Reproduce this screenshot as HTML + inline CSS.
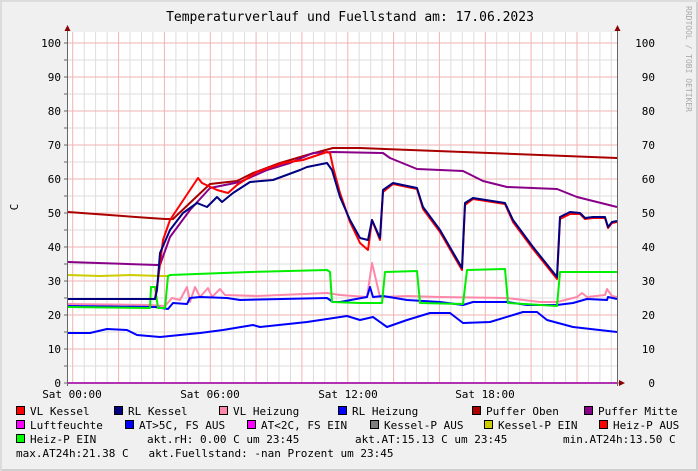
<!DOCTYPE html>
<html><head><meta charset="utf-8"><style>
html,body{margin:0;padding:0;background:#f0f0f0;}
svg{display:block;}
text{font-family:"DejaVu Sans Mono","Liberation Mono",monospace;}
</style></head><body>
<svg width="698" height="471" viewBox="0 0 698 471" xmlns="http://www.w3.org/2000/svg">
<rect x="0" y="0" width="698" height="471" fill="#f0f0f0"/>
<rect x="696" y="0" width="2" height="471" fill="#cfcfcf"/>
<rect x="0" y="469" width="698" height="2" fill="#cfcfcf"/>
<rect x="0" y="0" width="698" height="2" fill="#dcdcdc"/>
<rect x="0" y="0" width="2" height="471" fill="#dcdcdc"/>
<rect x="68" y="32" width="550" height="351" fill="#ffffff"/>
<g stroke="#dddddd" stroke-width="1">
<path d="M84.2 32V383M95.6 32V383M107.1 32V383M130.0 32V383M141.5 32V383M152.9 32V383M175.9 32V383M187.3 32V383M198.8 32V383M221.7 32V383M233.2 32V383M244.6 32V383M267.5 32V383M279.0 32V383M290.5 32V383M313.4 32V383M324.8 32V383M336.3 32V383M359.2 32V383M370.7 32V383M382.1 32V383M405.1 32V383M416.5 32V383M428.0 32V383M450.9 32V383M462.3 32V383M473.8 32V383M496.7 32V383M508.2 32V383M519.6 32V383M542.6 32V383M554.0 32V383M565.5 32V383M588.4 32V383M599.9 32V383M611.3 32V383"/>
<path d="M68 366H618M68 332H618M68 298H618M68 264H618M68 230H618M68 196H618M68 162H618M68 128H618M68 94H618M68 60H618"/>
</g>
<g stroke="#f2b3b3" stroke-width="1">
<path d="M72.7 32V383M118.6 32V383M164.4 32V383M210.3 32V383M256.1 32V383M301.9 32V383M347.8 32V383M393.6 32V383M439.4 32V383M485.3 32V383M531.1 32V383M577.0 32V383"/>
<path d="M68 349H618M68 315H618M68 281H618M68 247H618M68 213H618M68 179H618M68 145H618M68 111H618M68 77H618M68 43H618"/>
</g>
<g fill="none" stroke-width="2" stroke-linejoin="round">
<polyline stroke="#cccc00" points="68,275 100,276 130,275 160,276 168,276"/>
<polyline stroke="#0000ff" points="68,333 90,333 107,329 127,330 137,335 160,337 200,333 223,330 253,325 260,327 307,322 347,316 360,320 373,317 387,327 407,320 430,313 450,313 463,323 490,322 523,312 537,312 547,320 573,327 617,332"/>
<polyline stroke="#ff88aa" points="68,304 150,305 165,306 172,298 180,300 187,287 190,302 195,287 200,297 208,288 212,297 220,289 225,295 257,296 327,293 340,295 367,297 372,263 380,297 407,296 440,297 507,298 540,302 557,302 577,297 582,293 587,297 605,295 607,289 612,296 617,297"/>
<polyline stroke="#0000ff" points="68,306 155,307 168,309 173,303 187,304 190,298 200,297 227,298 240,300 327,298 333,302 340,302 367,297 370,287 373,297 383,296 407,300 440,302 463,305 473,302 507,302 527,305 557,305 573,303 587,299 607,300 608,297 617,299"/>
<polyline stroke="#00ee00" points="68,307 150,308 151,287 155,287 158,308 165,308 168,276 170,275 250,272 327,270 330,272 332,302 360,303 382,303 385,272 417,271 420,303 463,304 467,270 505,269 508,303 557,306 560,272 570,272 617,272"/>
<polyline stroke="#aa0000" points="68,212 150,218 165,219 173,219 193,200 210,184 237,181 253,173 280,163 307,155 333,148 360,148 617,158"/>
<polyline stroke="#880088" points="68,262 157,265 160,265 170,237 190,210 210,188 240,182 267,170 290,163 313,153 333,152 383,153 390,158 417,169 463,171 483,181 507,187 557,189 577,197 617,207"/>
<polyline stroke="#ff0000" points="68,299 155,299 158,280 163,240 170,220 180,205 190,190 198,178 202,183 217,190 228,193 237,185 257,172 283,163 303,160 327,152 330,153 333,167 340,193 350,222 360,243 368,250 372,220 380,240 383,192 393,184 417,189 423,209 440,232 462,270 465,205 473,199 505,204 513,222 533,249 557,279 560,219 570,214 580,214 585,219 593,218 605,218 608,228 612,223 617,222"/>
<polyline stroke="#000080" points="68,299 155,299 157,290 160,253 170,230 183,213 197,203 207,207 217,197 222,202 233,193 250,182 273,180 300,170 307,167 327,163 332,170 340,197 350,220 360,238 368,240 372,220 380,238 383,190 393,183 417,188 423,207 440,230 462,268 465,203 473,198 505,203 513,220 533,247 557,277 560,217 570,212 580,213 585,218 593,217 605,217 608,227 612,222 617,221"/>
<polyline stroke="#ff00ff" points="68,383 617,383"/>
</g>
<g stroke="#666" stroke-width="1">
<path d="M67.5 28V386M617.5 28V386M64 383H620"/>
<path d="M64 366H68M64 349H68M64 332H68M64 315H68M64 298H68M64 281H68M64 264H68M64 247H68M64 230H68M64 213H68M64 196H68M64 179H68M64 162H68M64 145H68M64 128H68M64 111H68M64 94H68M64 77H68M64 60H68M64 43H68"/>
</g>
<g fill="#880000">
<path d="M64.5 31L67.5 25L70.5 31Z"/>
<path d="M614.5 31L617.5 25L620.5 31Z"/>
<path d="M619 380L625 383L619 386Z"/>
</g>
<text x="350" y="21" font-size="13" text-anchor="middle" fill="#000">Temperaturverlauf und Fuellstand am: 17.06.2023</text>
<text transform="translate(18,207) rotate(-90)" font-size="11" text-anchor="middle">C</text>
<text transform="translate(686,6) rotate(90)" font-size="8" fill="#aaa">RRDTOOL / TOBI OETIKER</text>
<g font-size="11" text-anchor="end" fill="#000">
<text x="61" y="387">0</text><text x="61" y="353">10</text><text x="61" y="319">20</text><text x="61" y="285">30</text><text x="61" y="251">40</text><text x="61" y="217">50</text><text x="61" y="183">60</text><text x="61" y="149">70</text><text x="61" y="115">80</text><text x="61" y="81">90</text><text x="61" y="47">100</text>
</g>
<g font-size="11" text-anchor="end" fill="#000">
<text x="655" y="387">0</text><text x="655" y="353">10</text><text x="655" y="319">20</text><text x="655" y="285">30</text><text x="655" y="251">40</text><text x="655" y="217">50</text><text x="655" y="183">60</text><text x="655" y="149">70</text><text x="655" y="115">80</text><text x="655" y="81">90</text><text x="655" y="47">100</text>
</g>
<g font-size="11" text-anchor="middle" fill="#000">
<text x="72" y="398">Sat 00:00</text><text x="210" y="398">Sat 06:00</text><text x="348" y="398">Sat 12:00</text><text x="485" y="398">Sat 18:00</text>
</g>
<g stroke="#000" stroke-width="1">
<rect x="16.5" y="406.5" width="8" height="8" fill="#ff0000"/>
<rect x="114.5" y="406.5" width="8" height="8" fill="#000080"/>
<rect x="219.5" y="406.5" width="8" height="8" fill="#ff88aa"/>
<rect x="338.5" y="406.5" width="8" height="8" fill="#0000ff"/>
<rect x="472.5" y="406.5" width="8" height="8" fill="#aa0000"/>
<rect x="584.5" y="406.5" width="8" height="8" fill="#880088"/>
<rect x="16.5" y="420.5" width="8" height="8" fill="#ff00ff"/>
<rect x="125.5" y="420.5" width="8" height="8" fill="#0000ff"/>
<rect x="247.5" y="420.5" width="8" height="8" fill="#ff00ff"/>
<rect x="370.5" y="420.5" width="8" height="8" fill="#808080"/>
<rect x="484.5" y="420.5" width="8" height="8" fill="#cccc00"/>
<rect x="599.5" y="420.5" width="8" height="8" fill="#ff0000"/>
<rect x="16.5" y="434.5" width="8" height="8" fill="#00ff00"/>
</g>
<g font-size="11" fill="#000">
<text x="30" y="415">VL Kessel</text><text x="128" y="415">RL Kessel</text><text x="233" y="415">VL Heizung</text><text x="352" y="415">RL Heizung</text><text x="486" y="415">Puffer Oben</text><text x="598" y="415">Puffer Mitte</text>
<text x="30" y="429">Luftfeuchte</text><text x="139" y="429">AT&gt;5C, FS AUS</text><text x="261" y="429">AT&lt;2C, FS EIN</text><text x="384" y="429">Kessel-P AUS</text><text x="498" y="429">Kessel-P EIN</text><text x="613" y="429">Heiz-P AUS</text>
<text x="30" y="443">Heiz-P EIN</text><text x="147" y="443">akt.rH: 0.00 C um 23:45</text><text x="355" y="443">akt.AT:15.13 C um 23:45</text><text x="563" y="443">min.AT24h:13.50 C</text>
<text x="16" y="457">max.AT24h:21.38 C&#160;&#160; akt.Fuellstand: -nan Prozent um 23:45</text>
</g>
</svg>
</body></html>
